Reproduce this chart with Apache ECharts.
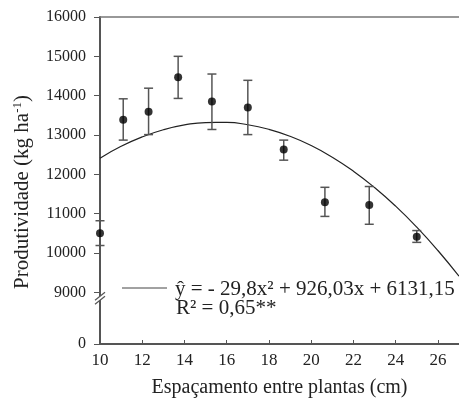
<!DOCTYPE html>
<html>
<head>
<meta charset="utf-8">
<script src="https://cdn.jsdelivr.net/npm/echarts@6/dist/echarts.min.js"></script>
<style>
html,body{margin:0;padding:0;background:#fff;}
#chart{width:459px;height:403px;}
</style>
</head>
<body>
<div id="chart"></div>
<script>
// Observed data (spacing in cm, yield in kg/ha)
var spacing = [10, 11.1, 12.3, 13.7, 15.3, 17.0, 18.7, 20.65, 22.75, 25.0];
var yieldMean = [10500, 13390, 13590, 14470, 13850, 13700, 12630, 11290, 11220, 10410];
var errLow  = [10190, 12870, 13010, 13930, 13140, 13010, 12360, 10930, 10730, 10270];
var errHigh = [10820, 13920, 14190, 15000, 14550, 14390, 12870, 11670, 11690, 10570];

// Fitted curve
var curveX = [10, 11, 12, 13, 14, 15, 16, 17, 18, 19, 20, 21, 22, 23, 24, 25, 26, 27];
var curveY = [12411, 12712, 12952, 13133, 13255, 13317, 13319, 13261, 13144, 12968, 12732, 12436, 12081, 11666, 11191, 10657, 10063, 9410];

// Axis ticks (broken y axis: the "0" tick sits just below 9000)
var xTicks = [10, 12, 14, 16, 18, 20, 22, 24, 26];
var yBreakBase = 7686;
var yTickValues = [7686, 9000, 10000, 11000, 12000, 13000, 14000, 15000, 16000];
var yTickLabels = ['0', '9000', '10000', '11000', '12000', '13000', '14000', '15000', '16000'];

var eqLine1 = 'ŷ = - 29,8x² + 926,03x + 6131,15';
var eqLine2 = 'R² = 0,65**';

var FONT = '"Liberation Serif", "Times New Roman", serif';
var AX = '#555';
var TXT = '#222';

var chart = echarts.init(document.getElementById('chart'));

var scatterData = spacing.map(function (x, i) { return [x, yieldMean[i]]; });
var errData = spacing.map(function (x, i) { return [x, errLow[i], errHigh[i]]; });
var curveData = curveX.map(function (x, i) { return [x, curveY[i]]; });

chart.setOption({
  animation: false,
  backgroundColor: '#fff',
  grid: { left: 100, right: 0, top: 17, bottom: 57 },
  xAxis: [{
    type: 'value', min: 10, max: 27,
    axisLine: { lineStyle: { color: AX, width: 2 } },
    axisTick: { inside: true, length: 4, lineStyle: { color: AX, width: 1 }, customValues: xTicks },
    axisLabel: { customValues: xTicks, margin: 8, color: TXT, fontFamily: FONT, fontSize: 17 },
    splitLine: { show: false },
    name: 'Espaçamento entre plantas (cm)',
    nameLocation: 'middle', nameGap: 34,
    nameTextStyle: { color: TXT, fontFamily: FONT, fontSize: 20 }
  }, {
    type: 'value', min: 10, max: 27, position: 'top',
    axisLine: { show: true, onZero: false, lineStyle: { color: '#777', width: 1.5 } },
    axisTick: { show: false }, axisLabel: { show: false }, splitLine: { show: false }
  }],
  yAxis: {
    type: 'value', min: yBreakBase, max: 16000,
    axisLine: { show: true, lineStyle: { color: AX, width: 2 } },
    axisTick: { show: true, length: 6, lineStyle: { color: AX, width: 1 }, customValues: yTickValues },
    axisLabel: {
      customValues: yTickValues, margin: 14, color: TXT, fontFamily: FONT, fontSize: 16,
      formatter: function (v) {
        var i = yTickValues.indexOf(v);
        return i >= 0 ? yTickLabels[i] : '';
      }
    },
    splitLine: { show: false }
  },
  series: [{
    type: 'line', data: curveData, smooth: true, showSymbol: false,
    lineStyle: { color: '#222', width: 1.2 }, z: 2
  }, {
    type: 'custom', data: errData, z: 3,
    renderItem: function (params, api) {
      var x = api.value(0);
      var lo = api.coord([x, api.value(1)]);
      var hi = api.coord([x, api.value(2)]);
      var w = 4.5;
      var st = { stroke: '#555', lineWidth: 1.5 };
      return {
        type: 'group',
        children: [
          { type: 'line', shape: { x1: lo[0], y1: lo[1], x2: hi[0], y2: hi[1] }, style: st },
          { type: 'line', shape: { x1: hi[0] - w, y1: hi[1], x2: hi[0] + w, y2: hi[1] }, style: st },
          { type: 'line', shape: { x1: lo[0] - w, y1: lo[1], x2: lo[0] + w, y2: lo[1] }, style: st }
        ]
      };
    }
  }, {
    type: 'scatter', data: scatterData, symbol: 'circle', symbolSize: 8,
    itemStyle: { color: '#000' }, z: 4, clip: false
  }]
});

// Axis break marks, legend line and equation text
var p9 = chart.convertToPixel({ xAxisIndex: 0, yAxisIndex: 0 }, [10, 8950]);
var bx = p9[0], by = p9[1];
chart.setOption({
  graphic: [
    { type: 'polygon', shape: { points: [[bx - 5, by + 6], [bx + 5, by - 2], [bx + 5, by + 2], [bx - 5, by + 10]] }, style: { fill: '#fff' }, z: 100 },
    { type: 'line', shape: { x1: bx - 5, y1: by + 6, x2: bx + 5, y2: by - 2 }, style: { stroke: AX, lineWidth: 1.2 }, z: 101 },
    { type: 'line', shape: { x1: bx - 5, y1: by + 10, x2: bx + 5, y2: by + 2 }, style: { stroke: AX, lineWidth: 1.2 }, z: 101 },
    { type: 'line', shape: { x1: 122, y1: 288, x2: 167, y2: 288 }, style: { stroke: '#444', lineWidth: 1 }, z: 101 },
    { type: 'text', x: 175, y: 289, style: { text: eqLine1, fill: TXT, font: '21px ' + FONT, textVerticalAlign: 'middle' }, z: 101 },
    { type: 'text', x: 176, y: 308, style: { text: eqLine2, fill: TXT, font: '21px ' + FONT, textVerticalAlign: 'middle' }, z: 101 },
    {
      type: 'text', x: 22, y: 192, rotation: Math.PI / 2, z: 101,
      style: {
        text: 'Produtividade (kg ha{sup|-1})', fill: TXT, font: '21px ' + FONT,
        textAlign: 'center', textVerticalAlign: 'middle',
        rich: { sup: { fontSize: 13, fontFamily: FONT, fill: TXT, verticalAlign: 'top', padding: [0, 0, 8, 0] } }
      }
    }
  ]
});
</script>
</body>
</html>
